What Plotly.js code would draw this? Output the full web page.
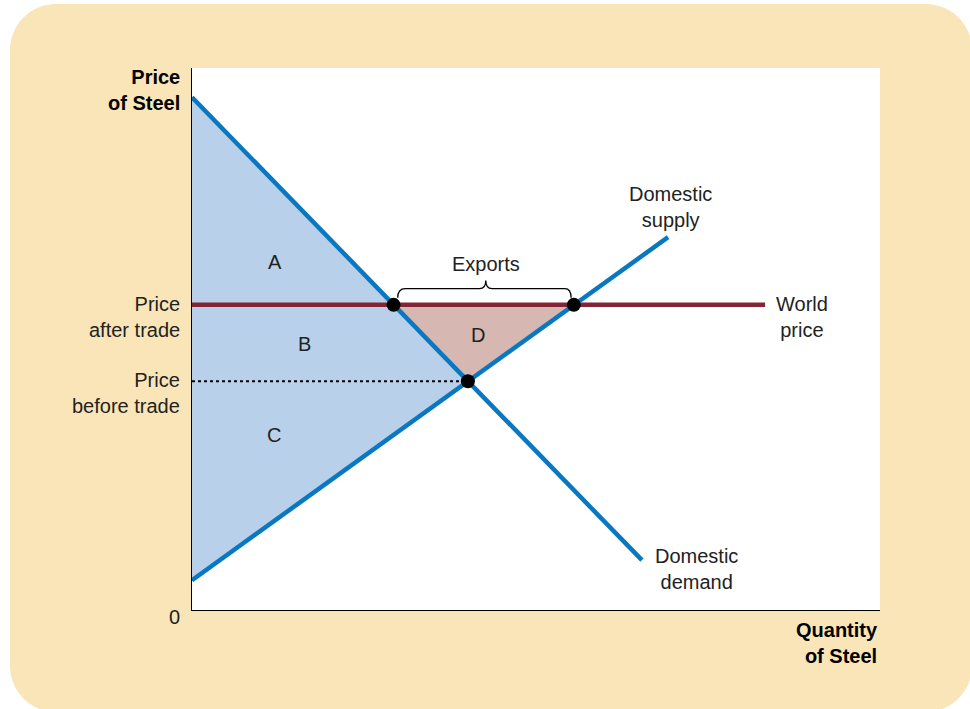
<!DOCTYPE html>
<html>
<head>
<meta charset="utf-8">
<script src="https://cdn.plot.ly/plotly-3.0.1.min.js"></script>
<style>
  body { margin: 0; background: #ffffff; }
  #frame { position: absolute; left: 10px; top: 4px; width: 962px; height: 708px;
           background: #f9e5b8; border-radius: 46px; }
  #chart { position: absolute; left: 0; top: 0; width: 970px; height: 709px; }
</style>
</head>
<body>
<div id="frame"></div>
<div id="chart"></div>
<script>
// curves (quantity, price)
var demandQ = [0, 65.4];
var demandP = [94.6, 9.2];
var supplyQ = [0, 69.2];
var supplyP = [5.5, 68.8];
var worldQ = [0, 83.3];
var worldP = [56.3, 56.3];
var eqQ = 40.1, eqP = 42.2;          // price before trade
var exportQ = [29.3, 55.5];          // demand / supply at world price

var blue = '#0a78c0';
var CHART = document.getElementById('chart');

var surplus = {
  x: [0, eqQ, 0, 0], y: [demandP[0], eqP, supplyP[0], demandP[0]],
  fill: 'toself', fillcolor: '#b8d0e9', mode: 'none', hoverinfo: 'skip'
};
var areaD = {
  x: [exportQ[0], exportQ[1], eqQ, exportQ[0]], y: [worldP[0], worldP[0], eqP, worldP[0]],
  fill: 'toself', fillcolor: '#d6b7b1', mode: 'none', hoverinfo: 'skip'
};
var before = {
  x: [0, eqQ], y: [eqP, eqP], mode: 'lines',
  line: {color: '#000', width: 2, dash: 'dot'}
};
var world = {
  x: worldQ, y: worldP, mode: 'lines', line: {color: '#822535', width: 4.5}
};
var demand = {
  x: demandQ, y: demandP, mode: 'lines', line: {color: blue, width: 4.5}
};
var supply = {
  x: supplyQ, y: supplyP, mode: 'lines', line: {color: blue, width: 4.5}
};
var dots = {
  x: [exportQ[0], exportQ[1], eqQ], y: [worldP[0], worldP[0], eqP],
  mode: 'markers', marker: {color: '#000', size: 14}
};

var txt = {family: 'Liberation Sans, Arial, sans-serif', size: 20, color: '#222'};
var bold = {family: 'Liberation Sans, Arial, sans-serif', size: 20, color: '#000', weight: 'bold'};

function note(x, y, text, opt) {
  return Object.assign({x: x, y: y, text: text, showarrow: false, font: txt,
    xref: 'x', yref: 'y'}, opt || {});
}

var layout = {
  width: 970, height: 709,
  margin: {l: 192, r: 90, t: 68, b: 99},
  paper_bgcolor: 'rgba(0,0,0,0)',
  plot_bgcolor: '#ffffff',
  showlegend: false,
  xaxis: {range: [0, 100], showline: true, linecolor: '#000', linewidth: 1.2,
          showgrid: false, zeroline: false, showticklabels: false, ticks: '', fixedrange: true},
  yaxis: {range: [0, 100], showline: true, linecolor: '#000', linewidth: 1.2,
          showgrid: false, zeroline: false, showticklabels: false, ticks: '', fixedrange: true},
  shapes: [{
    type: 'path', xref: 'x', yref: 'y', line: {color: '#000', width: 1.3},
    path: 'M 29.9,57.6 Q 29.9,59.3 31.0,59.3 L 41.8,59.3 Q 42.7,59.3 42.7,60.8 ' +
          'Q 42.7,59.3 43.6,59.3 L 54.2,59.3 Q 55.1,59.3 55.1,57.6'
  }],
  annotations: [
    note(12.1, 64.2, 'A'),
    note(16.4, 49.1, 'B'),
    note(11.9, 32.3, 'C'),
    note(41.6, 50.7, 'D'),
    note(42.7, 63.8, 'Exports'),
    note(69.5, 74.4, 'Domestic<br>supply'),
    note(88.6, 54.1, 'World<br>price'),
    note(73.3, 7.6, 'Domestic<br>demand'),
    note(-0.014, worldP[0], 'Price<br>after trade',
         {xref: 'paper', xanchor: 'right', align: 'right', yshift: -12}),
    note(-0.014, eqP, 'Price<br>before trade',
         {xref: 'paper', xanchor: 'right', align: 'right', yshift: -12}),
    note(-0.026, -0.037, '0', {xref: 'paper', yref: 'paper', xanchor: 'center'}),
    note(-0.014, 1.0, 'Price<br>of Steel',
         {xref: 'paper', yref: 'paper', xanchor: 'right', yanchor: 'middle', align: 'right',
          font: bold, yshift: -22}),
    note(1.0, 0, 'Quantity<br>of Steel',
         {xref: 'paper', yref: 'paper', xanchor: 'right', yanchor: 'middle', align: 'right',
          font: bold, yshift: -33})
  ]
};

Plotly.newPlot(CHART, [surplus, areaD, before, world, demand, supply, dots], layout,
  {displayModeBar: false, staticPlot: true});
</script>
</body>
</html>
